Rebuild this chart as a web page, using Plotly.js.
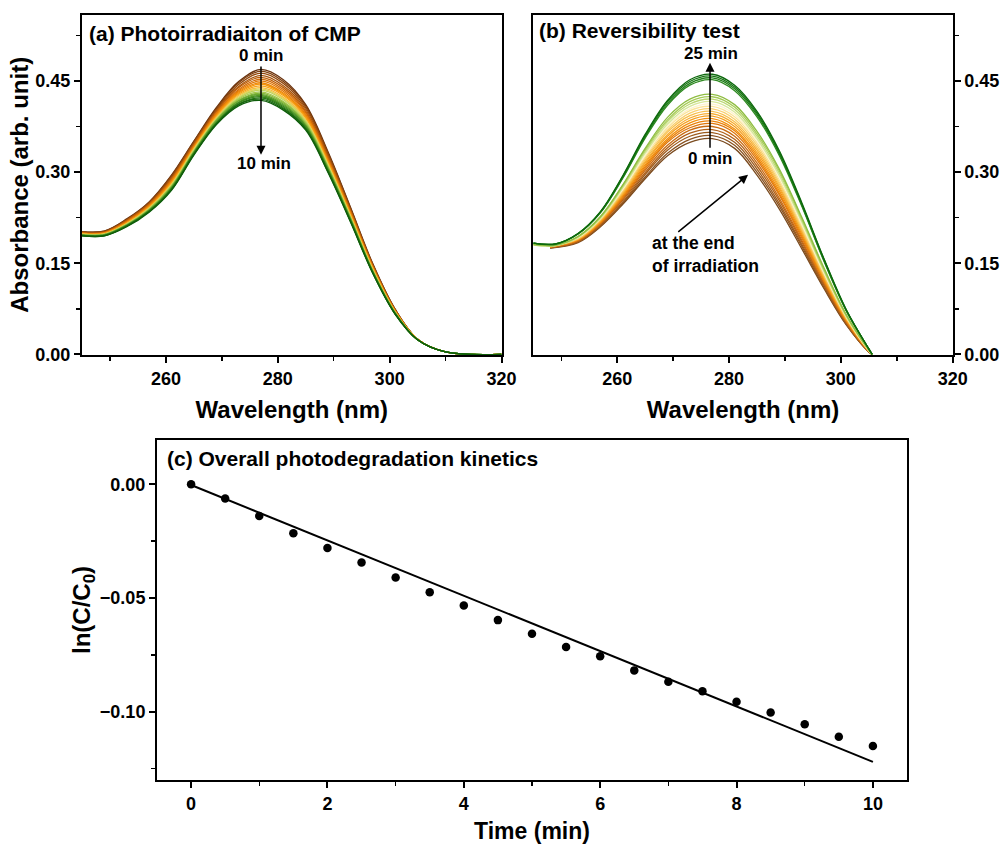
<!DOCTYPE html>
<html><head><meta charset="utf-8">
<script src="https://cdn.plot.ly/plotly-3.0.1.min.js"></script>
<style>html,body{margin:0;padding:0;background:#fff}#chart{width:1000px;height:846px}</style>
</head><body><div id="chart"></div>
<script>
// ---------- Panel (a): photoirradiation spectra, 0 -> 10 min (every 0.5 min) ----------
const wlA = [245,249,253,257,261,265,269,273,277,281,285,289,293,297,301,305,310,320];
const a_t00_0 = [.202,.203,.223,.251,.295,.351,.406,.449,.469,.452,.411,.333,.242,.149,.074,.025,.004,0];
const a_t00_5 = [.202,.203,.222,.250,.294,.350,.404,.447,.466,.449,.409,.331,.241,.148,.074,.025,.004,0];
const a_t01_0 = [.201,.202,.221,.249,.292,.348,.402,.444,.463,.446,.406,.329,.239,.147,.073,.025,.004,0];
const a_t01_5 = [.201,.201,.221,.248,.290,.347,.401,.441,.459,.442,.403,.326,.237,.146,.072,.025,.004,0];
const a_t02_0 = [.200,.201,.220,.247,.289,.345,.399,.439,.456,.439,.400,.324,.236,.145,.072,.025,.004,0];
const a_t02_5 = [.200,.200,.219,.246,.287,.344,.397,.436,.453,.436,.398,.322,.235,.144,.072,.025,.004,0];
const a_t03_0 = [.199,.200,.218,.245,.286,.342,.396,.434,.450,.433,.395,.320,.233,.143,.071,.025,.004,0];
const a_t03_5 = [.199,.200,.217,.244,.284,.341,.394,.432,.447,.430,.393,.318,.232,.142,.071,.025,.004,0];
const a_t04_0 = [.199,.199,.217,.243,.283,.340,.393,.430,.445,.428,.391,.317,.231,.142,.070,.025,.004,0];
const a_t04_5 = [.198,.199,.216,.242,.282,.339,.391,.428,.442,.426,.389,.315,.229,.141,.070,.025,.004,0];
const a_t05_0 = [.198,.198,.215,.241,.280,.338,.390,.426,.439,.423,.386,.313,.228,.140,.069,.025,.004,0];
const a_t05_5 = [.198,.198,.215,.240,.279,.337,.388,.424,.437,.421,.385,.312,.227,.139,.069,.024,.004,0];
const a_t06_0 = [.197,.198,.214,.240,.278,.336,.387,.422,.435,.419,.383,.310,.226,.138,.069,.024,.004,0];
const a_t06_5 = [.197,.197,.214,.239,.277,.334,.386,.420,.432,.416,.381,.308,.225,.137,.068,.024,.004,0];
const a_t07_0 = [.197,.197,.213,.238,.276,.333,.385,.418,.430,.414,.379,.307,.224,.137,.068,.024,.004,0];
const a_t07_5 = [.196,.197,.213,.237,.275,.333,.384,.417,.428,.412,.377,.306,.223,.136,.068,.024,.004,0];
const a_t08_0 = [.196,.196,.212,.237,.274,.332,.382,.415,.426,.410,.376,.304,.222,.136,.067,.024,.004,0];
const a_t08_5 = [.196,.196,.212,.236,.273,.331,.381,.414,.424,.408,.374,.303,.221,.135,.067,.024,.004,0];
const a_t09_0 = [.196,.196,.211,.235,.272,.330,.380,.412,.422,.406,.372,.302,.220,.134,.067,.024,.004,0];
const a_t09_5 = [.195,.195,.211,.235,.271,.329,.379,.411,.420,.404,.371,.300,.219,.134,.066,.024,.004,0];
const a_t10_0 = [.195,.195,.210,.234,.270,.328,.378,.409,.418,.402,.369,.299,.218,.133,.066,.024,.004,0];
const seriesA = [a_t00_0,a_t00_5,a_t01_0,a_t01_5,a_t02_0,a_t02_5,a_t03_0,a_t03_5,a_t04_0,a_t04_5,a_t05_0,
                 a_t05_5,a_t06_0,a_t06_5,a_t07_0,a_t07_5,a_t08_0,a_t08_5,a_t09_0,a_t09_5,a_t10_0];

// ---------- Panel (b): reversibility spectra, 0 -> 25 min ----------
const wlB_short = [248,253,257,261,265,269,273,277,281,285,289,293,297,301,305,305.6];
const wlB_long  = [245,249,253,257,261,265,269,273,277,281,285,289,293,297,301,305,305.6];
const b_c01 = [.175,.184,.210,.247,.289,.327,.349,.355,.339,.295,.239,.174,.108,.048,.004,0];
const b_c02 = [.175,.185,.211,.249,.292,.331,.354,.360,.344,.300,.244,.178,.110,.049,.004,0];
const b_c03 = [.176,.185,.212,.251,.296,.336,.359,.365,.349,.305,.248,.181,.113,.050,.004,0];
const b_c04 = [.176,.186,.214,.254,.299,.340,.364,.370,.354,.310,.253,.185,.115,.052,.005,0];
const b_c05 = [.176,.187,.215,.256,.303,.344,.369,.375,.359,.315,.257,.188,.117,.053,.005,0];
const b_c06 = [.177,.188,.216,.258,.306,.349,.373,.380,.364,.320,.262,.192,.120,.054,.005,0];
const b_c07 = [.177,.188,.217,.260,.309,.352,.377,.384,.368,.324,.265,.195,.121,.055,.005,0];
const b_c08 = [.177,.189,.218,.262,.312,.355,.381,.388,.371,.328,.269,.198,.123,.056,.006,0];
const b_c09 = [.177,.189,.219,.263,.315,.359,.385,.392,.375,.332,.273,.201,.125,.057,.006,0];
const b_c10 = [.178,.190,.220,.265,.317,.362,.389,.396,.379,.336,.276,.203,.127,.058,.006,0];
const b_c11 = [.178,.190,.221,.267,.320,.366,.393,.400,.383,.340,.280,.206,.129,.059,.006,0];
const b_c12 = [.178,.191,.222,.269,.323,.369,.397,.404,.387,.344,.283,.209,.131,.060,.006,0];
const b_c13 = [.179,.192,.223,.271,.326,.373,.401,.408,.391,.348,.287,.212,.133,.061,.006,0];
const b_c14 = [.179,.192,.224,.272,.328,.376,.404,.412,.395,.352,.291,.215,.134,.062,.007,0];
const b_c15 = [.180,.179,.193,.224,.274,.331,.379,.408,.416,.399,.355,.294,.218,.136,.062,.007,0];
const b_c16 = [.180,.179,.193,.225,.276,.334,.383,.412,.420,.403,.359,.298,.221,.138,.063,.007,0];
const b_c17 = [.181,.180,.194,.226,.278,.337,.386,.416,.424,.407,.363,.302,.224,.140,.064,.007,0];
const b_c18 = [.181,.180,.194,.227,.279,.339,.390,.420,.428,.411,.367,.305,.226,.142,.065,.007,0];
const b_c19 = [.183,.181,.198,.233,.290,.356,.410,.443,.452,.434,.391,.327,.244,.153,.071,.009,0];
const b_c20 = [.183,.182,.198,.234,.291,.358,.413,.446,.455,.437,.394,.330,.246,.154,.072,.009,0];
const b_c21 = [.183,.182,.199,.234,.293,.360,.416,.449,.458,.440,.397,.332,.248,.156,.072,.009,0];
const b_c22 = [.183,.182,.199,.235,.294,.362,.418,.452,.461,.443,.400,.335,.250,.157,.073,.009,0];
const seriesB = [b_c01,b_c02,b_c03,b_c04,b_c05,b_c06,b_c07,b_c08,b_c09,b_c10,b_c11,
                 b_c12,b_c13,b_c14,b_c15,b_c16,b_c17,b_c18,b_c19,b_c20,b_c21,b_c22];

// ---------- Panel (c): kinetics ----------
const timeC = [0,0.5,1,1.5,2,2.5,3,3.5,4,4.5,5,5.5,6,6.5,7,7.5,8,8.5,9,9.5,10];
const lnC = [0,-0.0062,-0.0139,-0.0215,-0.0280,-0.0344,-0.0410,-0.0474,-0.0533,-0.0597,-0.0657,
             -0.0715,-0.0756,-0.0818,-0.0868,-0.0910,-0.0956,-0.1003,-0.1055,-0.1110,-0.1151];
const fitT = [0, 10];
const fitLn = [-0.0003, -0.1220];

// ---------- styles ----------
const colorsA = ['#6b3410','#7e3f0f','#93490d','#a8540b','#bd5f09','#d26b07','#e27806','#ed8607','#f4940c','#f8a316',
                 '#f6bc3a','#e3d35a','#c2d35a','#a3c84a','#86b83c','#6aa82f','#509725','#3a861c','#287615','#19690f','#0e5d0a'];
const colorsB = ['#7a4a1e','#8a5220','#9c5a1c','#b06018','#c86a12','#dd760c','#ea820a','#f2900e','#f59f1e','#f7ae34','#f8c04e',
                 '#f9d070','#fae39a','#fdf3cc','#d6e79a','#bcd873','#a5cb55','#8fbd42','#2f8a22','#22801a','#167412','#0c680c'];
const FONT = 'Arial, "Liberation Sans", sans-serif';

const traces = [];
seriesA.forEach((ys, i) => traces.push({type:'scatter', mode:'lines', x: wlA, y: ys, xaxis:'x', yaxis:'y',
  line:{color: colorsA[i], width:1.3, shape:'spline', smoothing:1}, hoverinfo:'skip'}));
seriesB.forEach((ys, i) => traces.push({type:'scatter', mode:'lines', x: (ys.length === wlB_long.length ? wlB_long : wlB_short), y: ys,
  xaxis:'x2', yaxis:'y2', line:{color: colorsB[i], width:1.3, shape:'spline', smoothing:1}, hoverinfo:'skip'}));
traces.push({type:'scatter', mode:'lines', x: fitT, y: fitLn, xaxis:'x3', yaxis:'y3', line:{color:'#000', width:2}, hoverinfo:'skip'});
traces.push({type:'scatter', mode:'markers', x: timeC, y: lnC, xaxis:'x3', yaxis:'y3', marker:{color:'#000', size:8.5}, hoverinfo:'skip'});

const tickFont = {family: FONT, size: 18, color: '#000', weight: 700};
const titleFont = {family: FONT, size: 24, color: '#000', weight: 700};
const lblFont = {family: FONT, size: 17, color: '#000', weight: 700};
function ax(extra) {
  return Object.assign({showline:true, linecolor:'#000', linewidth:2, mirror:true, ticks:'outside', ticklen:6, tickwidth:2,
    tickcolor:'#000', showgrid:false, zeroline:false, tickfont: tickFont, fixedrange:true}, extra);
}
const topY = [1-355/846, 1-14.7/846];
const layout = {
  width:1000, height:846, margin:{l:0,r:0,t:0,b:0}, paper_bgcolor:'#fff', plot_bgcolor:'#fff', showlegend:false,
  xaxis: ax({domain:[0.082,0.5015], anchor:'y', range:[245,320], tick0:0, dtick:20,
    minor:{ticks:'outside', ticklen:4, tickwidth:1.5, tickcolor:'#000', dtick:10, tick0:0},
    title:{text:'Wavelength (nm)', font:titleFont, standoff:14}}),
  yaxis: ax({domain:topY, anchor:'x', range:[-0.001,0.559], tick0:0, dtick:0.15, tickformat:'.2f',
    minor:{ticks:'outside', ticklen:4, tickwidth:1.5, tickcolor:'#000', dtick:0.075, tick0:0},
    title:{text:'Absorbance (arb. unit)', font:titleFont, standoff:0}}),
  xaxis2: ax({domain:[0.5333,0.9527], anchor:'y2', range:[245,320], tick0:0, dtick:20,
    minor:{ticks:'outside', ticklen:4, tickwidth:1.5, tickcolor:'#000', dtick:10, tick0:0},
    title:{text:'Wavelength (nm)', font:titleFont, standoff:14}}),
  yaxis2: ax({domain:topY, anchor:'x2', side:'right', range:[-0.001,0.559], tick0:0, dtick:0.15, tickformat:'.2f',
    minor:{ticks:'outside', ticklen:4, tickwidth:1.5, tickcolor:'#000', dtick:0.075, tick0:0}}),
  xaxis3: ax({domain:[0.157,0.907], anchor:'y3', range:[-0.5,10.5], tick0:0, dtick:2,
    minor:{ticks:'outside', ticklen:4, tickwidth:1.5, tickcolor:'#000', dtick:1, tick0:0},
    title:{text:'Time (min)', font:{family:FONT, size:23, color:'#000', weight:700}, standoff:10}}),
  yaxis3: ax({domain:[1-780/846, 1-440/846], anchor:'x3', range:[-0.130,0.0195], tick0:0, dtick:0.05, tickformat:'.2f',
    minor:{ticks:'outside', ticklen:4, tickwidth:1.5, tickcolor:'#000', dtick:0.025, tick0:0},
    title:{text:'ln(C/C<sub>0</sub>)', font:titleFont, standoff:2}}),
  annotations: [
    {xref:'paper', yref:'paper', x:0.087, y:1-34/846, xanchor:'left', yanchor:'middle', showarrow:false,
     text:'(a) Photoirradiaiton of CMP', font:{family:FONT, size:21, color:'#000', weight:700}},
    {xref:'paper', yref:'paper', x:0.537, y:1-31/846, xanchor:'left', yanchor:'middle', showarrow:false,
     text:'(b) Reversibility test', font:{family:FONT, size:21, color:'#000', weight:700}},
    {xref:'paper', yref:'paper', x:0.165, y:1-458.5/846, xanchor:'left', yanchor:'middle', showarrow:false,
     text:'(c) Overall photodegradation kinetics', font:{family:FONT, size:21, color:'#000', weight:700}},
    // panel (a): "0 min" label carrying the downward arrow, and "10 min"
    {xref:'x', yref:'y', axref:'x', ayref:'y', x:277.0, y:0.3285, ax:277.0, ay:0.492, text:'0 min', showarrow:true,
     arrowhead:2, arrowsize:1.2, arrowwidth:1.5, arrowcolor:'#000', font:lblFont},
    {xref:'x', yref:'y', x:277.5, y:0.3137, text:'10 min', showarrow:false, xanchor:'center', yanchor:'middle', font:lblFont},
    // panel (b): "0 min" label carrying the upward arrow, "25 min", and the end-of-irradiation note
    {xref:'x2', yref:'y2', axref:'x2', ayref:'y2', x:276.6, y:0.480, ax:276.6, ay:0.322, text:'0 min', showarrow:true,
     arrowhead:2, arrowsize:1.2, arrowwidth:1.5, arrowcolor:'#000', font:lblFont},
    {xref:'x2', yref:'y2', x:276.8, y:0.495, text:'25 min', showarrow:false, xanchor:'center', yanchor:'middle', font:lblFont},
    {xref:'x2', yref:'y2', axref:'x2', ayref:'y2', x:283.4, y:0.2955, ax:265.9, ay:0.1637, text:'at the end<br>of irradiation',
     showarrow:true, arrowhead:2, arrowsize:1.2, arrowwidth:1.5, arrowcolor:'#000', xanchor:'left', yanchor:'middle',
     align:'left', font:{family:FONT, size:17.5, color:'#000', weight:700}}
  ]
};
Plotly.newPlot('chart', traces, layout, {staticPlot:true, displayModeBar:false});
</script>
</body></html>
